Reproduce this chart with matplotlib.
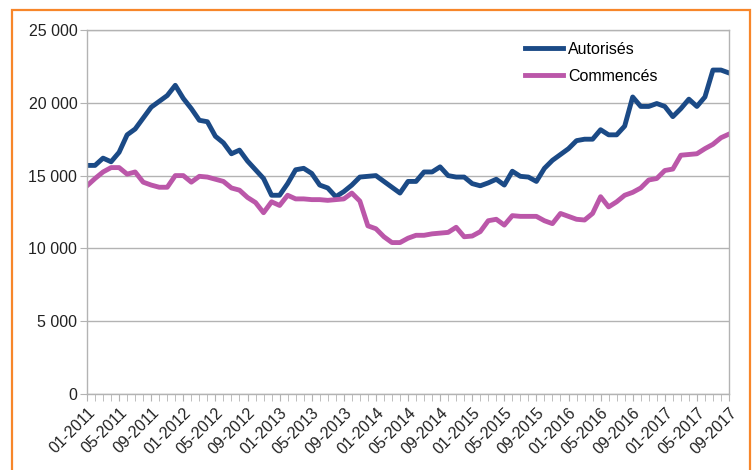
import matplotlib
matplotlib.use("Agg")
import matplotlib.pyplot as plt
from matplotlib.patches import Rectangle
from matplotlib.ticker import FuncFormatter, MultipleLocator, FixedLocator

plt.rcParams['font.family'] = ['Liberation Sans', 'DejaVu Sans']

months = [f"{m:02d}-{y}" for y in range(2011, 2018) for m in range(1, 13)][:81]

autorises = [15700, 15700, 16200, 15950, 16600, 17800, 18200, 18950, 19700, 20100,
             20500, 21200, 20300, 19600, 18800, 18700, 17700, 17250, 16500, 16750,
             16000, 15400, 14800, 13650, 13650, 14450, 15400, 15500, 15150, 14350,
             14150, 13550, 13900, 14350, 14900, 14950, 15000, 14600, 14200, 13800,
             14600, 14600, 15250, 15250, 15600, 15000, 14900, 14900, 14450, 14300,
             14500, 14750, 14350, 15300, 14950, 14900, 14600, 15500, 16050, 16450,
             16850, 17400, 17500, 17500, 18150, 17800, 17800, 18400, 20400, 19750,
             19750, 19950, 19750, 19050, 19600, 20250, 19750, 20400, 22250, 22250,
             22050]

commences = [14300, 14800, 15250, 15550, 15550, 15100, 15250, 14550, 14350, 14200,
             14200, 15000, 15000, 14550, 14950, 14900, 14750, 14600, 14150, 14000,
             13500, 13150, 12450, 13200, 12950, 13650, 13400, 13400, 13350, 13350,
             13300, 13350, 13400, 13800, 13250, 11550, 11350, 10800, 10400, 10400,
             10700, 10900, 10900, 11000, 11050, 11100, 11450, 10800, 10850, 11150,
             11900, 12000, 11600, 12250, 12200, 12200, 12200, 11900, 11700, 12400,
             12200, 12000, 11950, 12400, 13550, 12850, 13200, 13650, 13850, 14150,
             14700, 14800, 15350, 15450, 16400, 16450, 16500, 16850, 17150, 17600,
             17850]

series_names = ["Autorisés", "Commencés"]
colors = ["#1b4a86", "#bb57a9"]

W, H = 753, 470
fig = plt.figure(figsize=(W / 100, H / 100), dpi=100)

# orange frame
fig.patches.append(Rectangle((12 / W, -0.05), (750 - 12) / W, (470 - 10) / H + 0.05,
                             transform=fig.transFigure, fill=False,
                             edgecolor="#f7862a", linewidth=1.6))

ax = fig.add_axes([87 / W, (470 - 394) / H, (729 - 87) / W, (394 - 30) / H])

x = list(range(len(months)))
ax.plot(x, autorises, color=colors[0], linewidth=3.5, label=series_names[0],
        solid_joinstyle='round')
ax.plot(x, commences, color=colors[1], linewidth=3.5, label=series_names[1],
        solid_joinstyle='round')

ax.set_xlim(0, len(months) - 1)
ax.set_ylim(0, 25000)
ax.yaxis.set_major_locator(MultipleLocator(5000))
ax.yaxis.set_major_formatter(FuncFormatter(lambda v, p: f"{int(v):,}".replace(",", " ")))
ax.grid(axis='y', color="#b3b3b3", linewidth=1.0)
ax.set_axisbelow(True)

major_idx = list(range(0, len(months), 4))
ax.xaxis.set_major_locator(FixedLocator(major_idx))
ax.xaxis.set_minor_locator(FixedLocator(x))
ax.set_xticklabels([months[i] for i in major_idx], rotation=45, ha='right',
                   va='top', rotation_mode='anchor')

for s in ['left', 'bottom', 'right', 'top']:
    ax.spines[s].set_color("#b3b3b3")
    ax.spines[s].set_linewidth(1.0)

ax.tick_params(axis='x', which='both', direction='out', length=5, color="#b3b3b3",
               labelsize=11.5, labelcolor="#222222", pad=3)
ax.tick_params(axis='y', which='major', direction='out', length=5, color="#b3b3b3",
               labelsize=11.5, labelcolor="#222222", pad=2)

ax.legend(loc='upper left', bbox_to_anchor=(0.682, 0.968), frameon=False,
          fontsize=11.5, handlelength=2.4, handletextpad=0.3, labelspacing=0.75,
          borderaxespad=0, borderpad=0)

fig.savefig("out.png", dpi=100)
